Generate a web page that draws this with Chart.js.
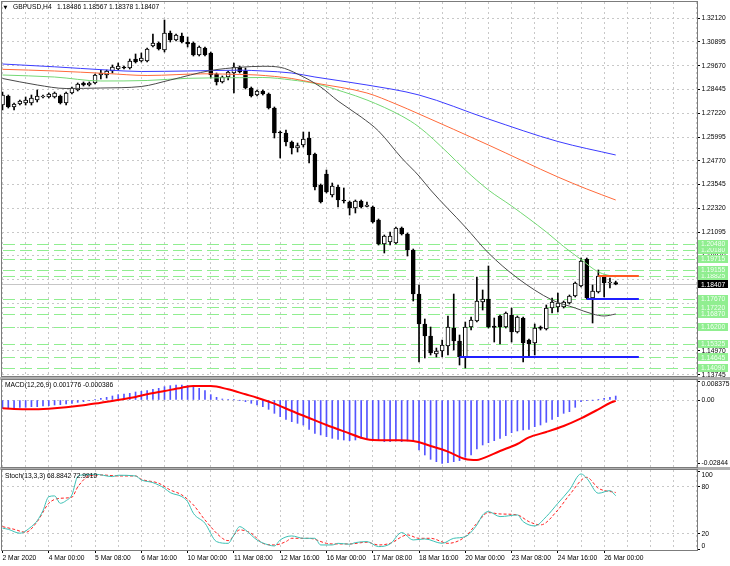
<!DOCTYPE html>
<html>
<head>
<meta charset="utf-8">
<title>GBPUSD,H4</title>
<script src="https://cdn.jsdelivr.net/npm/chart.js@4.4.1/dist/chart.umd.min.js"></script>
<style>
html,body{margin:0;padding:0;background:#fff;}
body{width:730px;height:566px;overflow:hidden;position:relative;}
canvas{position:absolute;left:0;}
.sep{position:absolute;left:0;width:730px;height:3px;background:#b0b0b0;}
</style>
</head>
<body>
<div class="sep" style="top:377px"></div>
<div class="sep" style="top:467px"></div>
<canvas id="cMain" width="730" height="377" style="top:0"></canvas>
<canvas id="cMacd" width="730" height="91" style="top:377px"></canvas>
<canvas id="cSto" width="730" height="98" style="top:468px"></canvas>
<script>
// ---------------- DATA ----------------
const symbol = 'GBPUSD,H4';

const barOpen = [
1.27645,1.28109,1.27542,1.27697,1.27748,1.27748,1.27903,1.28057,1.28057,1.28057,
1.28109,1.27748,1.28263,1.28418,1.28779,1.28676,1.28779,1.29191,1.29191,1.29398,
1.29501,1.29604,1.29552,1.30016,1.29913,1.29913,1.30686,1.30841,1.30480,1.31356,
1.30995,1.31202,1.30892,1.30841,1.30222,1.30583,1.30325,1.29243,1.28831,1.29088,
1.29294,1.29604,1.29398,1.28521,1.28160,1.28367,1.28212,1.27490,1.26253,1.26202,
1.25738,1.25428,1.25583,1.25944,1.25119,1.23521,1.24088,1.23006,1.23418,1.22748,
1.22645,1.22336,1.22696,1.22413,1.22387,1.21717,1.20480,1.20583,1.20532,1.21305,
1.20995,1.20171,1.17902,1.16356,1.15738,1.14810,1.14965,1.15222,1.16150,1.15480,
1.14656,1.16202,1.16511,1.17490,1.17645,1.16253,1.16769,1.16202,1.16820,1.15944,
1.16666,1.15532,1.15377,1.16202,1.16098,1.17181,1.17233,1.17233,1.17439,1.17799,
1.18314,1.19707,1.17696,1.18005,1.18830,1.18469,1.18486];
const barHigh = [
1.28315,1.28160,1.27748,1.27903,1.28057,1.28160,1.28418,1.28160,1.28263,1.28315,
1.28160,1.28315,1.28573,1.28779,1.28831,1.28831,1.29243,1.29449,1.29449,1.29707,
1.29810,1.29655,1.30016,1.30274,1.30325,1.30583,1.31305,1.30892,1.32026,1.31459,
1.31305,1.31356,1.31150,1.30892,1.30686,1.30635,1.30377,1.29294,1.29140,1.29398,
1.29810,1.29655,1.29552,1.28573,1.28418,1.28418,1.28263,1.27542,1.26305,1.26356,
1.25789,1.25686,1.26253,1.26253,1.25171,1.23573,1.24294,1.23624,1.23521,1.23367,
1.22696,1.22748,1.22748,1.22645,1.22439,1.21769,1.20944,1.21099,1.21356,1.21356,
1.21047,1.20222,1.18366,1.16614,1.16202,1.15119,1.15532,1.16769,1.17902,1.15789,
1.16459,1.16717,1.18779,1.18109,1.19346,1.16666,1.16820,1.16975,1.17181,1.16769,
1.16717,1.15583,1.16356,1.16253,1.17336,1.17696,1.17954,1.17542,1.17851,1.18521,
1.19758,1.19758,1.18366,1.19140,1.18882,1.18727,1.18567];
const barLow = [
1.27387,1.27490,1.27387,1.27645,1.27645,1.27645,1.27800,1.28006,1.28006,1.28006,
1.27697,1.27645,1.28212,1.28367,1.28624,1.28624,1.28727,1.28985,1.29037,1.29294,
1.29449,1.29501,1.29501,1.29810,1.29861,1.29861,1.30635,1.30480,1.30377,1.30892,
1.30944,1.30841,1.30635,1.30171,1.30171,1.30171,1.29037,1.28676,1.28779,1.28934,
1.28263,1.29294,1.28470,1.28057,1.28109,1.28160,1.27439,1.25944,1.24913,1.25532,
1.25119,1.25222,1.25480,1.24655,1.23263,1.22593,1.23109,1.22903,1.22387,1.22593,
1.21975,1.22078,1.22336,1.22387,1.21562,1.20428,1.20016,1.20428,1.20480,1.20944,
1.19861,1.17542,1.14398,1.14604,1.14759,1.14656,1.14656,1.14759,1.15016,1.14243,
1.14088,1.16047,1.16459,1.17078,1.16150,1.15428,1.15325,1.16150,1.15428,1.15892,
1.14398,1.14656,1.14759,1.16047,1.16047,1.16923,1.16975,1.17181,1.17387,1.17748,
1.18263,1.17645,1.16408,1.17954,1.17748,1.18212,1.18378];
const barClose = [
1.28160,1.27542,1.27697,1.27851,1.27903,1.28006,1.28109,1.28083,1.28212,1.28263,
1.27748,1.28263,1.28521,1.28727,1.28676,1.28779,1.29191,1.29294,1.29398,1.29604,
1.29655,1.29552,1.29913,1.29861,1.30068,1.30532,1.30841,1.30532,1.31356,1.30995,
1.31253,1.30892,1.30789,1.30222,1.30635,1.30222,1.29191,1.28831,1.29088,1.29346,
1.29604,1.29346,1.28521,1.28109,1.28367,1.28212,1.27490,1.26202,1.26202,1.25738,
1.25428,1.25547,1.25892,1.25068,1.23418,1.22645,1.23160,1.23470,1.22748,1.22696,
1.22336,1.22696,1.22387,1.22490,1.21614,1.20480,1.20892,1.20892,1.21305,1.20995,
1.20171,1.17902,1.16356,1.15738,1.14862,1.14965,1.15274,1.16202,1.15480,1.14656,
1.16202,1.16562,1.17542,1.17645,1.16202,1.16176,1.16202,1.16923,1.15944,1.16717,
1.15377,1.15325,1.16150,1.16124,1.17181,1.17490,1.17439,1.17490,1.17799,1.18469,
1.19604,1.17696,1.18057,1.18830,1.18469,1.18521,1.18407];

// moving averages: [bar index, price]
const maGray = [[0,1.29011],[6,1.28676],[11,1.28495],[17,1.28521],[24,1.28598],[29,1.28934],[36,1.29423],[41,1.29588],[45,1.29640],[48,1.29588],[51,1.29243],[55,1.28573],[58,1.27851],[62,1.27026],[65,1.26305],[69,1.24913],[72,1.23985],[74,1.23263],[80,1.21356],[84,1.20016],[89,1.18727],[95,1.17593],[99,1.17181],[102,1.16872],[104,1.16769],[106,1.16872]];
const maGreen = [[0,1.29191],[9,1.29088],[17,1.28882],[25,1.28908],[32,1.29021],[41,1.29052],[45,1.29062],[50,1.28934],[54,1.28753],[59,1.28315],[63,1.27903],[69,1.27078],[72,1.26511],[77,1.25171],[80,1.24294],[84,1.23263],[88,1.22439],[94,1.21099],[97,1.20351],[100,1.19681],[103,1.19037],[106,1.18779]];
const maOrange = [[0,1.29485],[9,1.29398],[18,1.29269],[25,1.29166],[35,1.29253],[41,1.29217],[44,1.29191],[50,1.29011],[54,1.28779],[63,1.28263],[68,1.27697],[72,1.27181],[84,1.25583],[96,1.23934],[101,1.23315],[106,1.22748]];
const maBlue = [[0,1.29758],[9,1.29614],[18,1.29449],[24,1.29372],[32,1.29398],[41,1.29439],[45,1.29398],[50,1.29294],[54,1.29088],[63,1.28676],[72,1.28160],[84,1.26923],[96,1.25764],[106,1.25068]];

// horizontal levels
const greenLevels = [1.20480,1.20180,1.19715,1.19155,1.18825,1.17670,1.17220,1.16870,1.16200,1.15325,1.14645,1.14090];
const segLevel = [1.18825, 1.17670, 1.14645];
const segFrom  = [103, 101, 79];
const segTo    = [110, 110, 110];

// price axis ticks
const priceTicks = [1.13745,1.14970,1.16195,1.17420,1.18645,1.19870,1.21095,1.22320,1.23545,1.24770,1.25995,1.27220,1.28445,1.29670,1.30895,1.32120];

// MACD(12,26,9)
const macdHist = [
-0.00373,-0.00373,-0.00358,-0.00328,-0.00328,-0.00299,-0.00299,-0.00269,-0.00254,-0.00224,
-0.00209,-0.00179,-0.00149,-0.00104,-0.00075,-0.00030,0.00030,0.00075,0.00119,0.00179,
0.00239,0.00269,0.00299,0.00358,0.00388,0.00418,0.00478,0.00522,0.00597,0.00642,
0.00672,0.00672,0.00657,0.00627,0.00522,0.00418,0.00239,0.00119,0.00045,0.00015,
0.00008,-0.00010,-0.00075,-0.00149,-0.00224,-0.00299,-0.00418,-0.00597,-0.00746,-0.00866,
-0.00970,-0.01045,-0.01120,-0.01314,-0.01493,-0.01567,-0.01642,-0.01717,-0.01761,-0.01791,
-0.01821,-0.01791,-0.01717,-0.01717,-0.01791,-0.01821,-0.01866,-0.01866,-0.01836,-0.01866,
-0.01836,-0.01866,-0.02239,-0.02463,-0.02657,-0.02762,-0.02844,-0.02806,-0.02762,-0.02717,
-0.02568,-0.02463,-0.02194,-0.02015,-0.01911,-0.01821,-0.01717,-0.01597,-0.01463,-0.01388,
-0.01343,-0.01314,-0.01194,-0.01120,-0.01000,-0.00866,-0.00746,-0.00597,-0.00522,-0.00328,
-0.00075,-0.00030,-0.00005,0.00030,0.00075,0.00119,0.001776];
const macdSignal = [[0,-0.00373],[2,-0.00403],[5,-0.00418],[8,-0.00388],[11,-0.00328],[14,-0.00239],[17,-0.00119],[20,0.00000],[23,0.00134],[25,0.00254],[28,0.00403],[31,0.00552],[33,0.00627],[36,0.00627],[39,0.00478],[42,0.00254],[44,0.00104],[47,-0.00164],[50,-0.00493],[53,-0.00806],[56,-0.01120],[59,-0.01403],[63,-0.01761],[64,-0.01791],[68,-0.01806],[71,-0.01836],[74,-0.02060],[77,-0.02314],[80,-0.02642],[82,-0.02687],[83,-0.02612],[86,-0.02284],[89,-0.01970],[91,-0.01672],[94,-0.01433],[97,-0.01164],[100,-0.00821],[103,-0.00418],[105,-0.00134],[106,-0.000386]];
const macdTicks = [0.008375, 0, -0.02844];
const macdTickText = ['0.008375', '0.00', '-0.02844'];

// Stochastic(13,3,3)
const stochMain = [[0,27.5],[1,26],[3,21],[5,29.5],[6,37],[7,50],[8,67.7],[9,68.6],[10,59.2],[11,62.6],[12,70],[13,93.3],[14,95.4],[16,96.3],[19,93.3],[20,95],[23,94.1],[24,89],[26,85.6],[28,78.4],[29,72.8],[31,67.7],[32,61.3],[33,46.4],[35,33.7],[37,10.3],[39,8.1],[40,18.8],[41,29.4],[42,25.2],[44,12.4],[46,6],[47,4.7],[48,12.4],[50,17.5],[52,14.5],[54,14.5],[55,6],[57,6],[58,8.1],[60,6.9],[61,9],[63,10.3],[65,3.9],[67,7.3],[69,21.8],[71,12.4],[73,13.7],[76,8.1],[78,14.5],[80,16.6],[82,31.6],[83,44.3],[84,48.6],[86,42.2],[89,44.3],[90,35.8],[92,30.3],[94,42.2],[96,59.2],[98,76.2],[100,96.7],[101,91.1],[103,72],[105,75.4],[106,68.8842]];
const stochSignal = [[0,29.4],[2,26],[4,22.2],[6,35.8],[8,59.2],[10,65.6],[12,67],[13,80],[15,94.1],[17,95.4],[20,94.1],[23,94.1],[24,89.9],[27,84.8],[29,76.2],[31,69.9],[33,57.1],[35,37.9],[38,14.5],[39,11.5],[41,25.2],[43,20.9],[45,8.1],[47,6],[49,10.3],[50,14.5],[53,14.5],[56,8.1],[57,7.3],[60,7.3],[63,9.5],[65,6],[67,8.1],[70,18.8],[72,14.5],[74,14.5],[77,8.1],[80,16.6],[82,33.7],[84,47.3],[86,45.6],[89,44.3],[91,35.8],[93,31.6],[96,50.7],[98,69.9],[101,92.4],[103,78.4],[106,72.991]];
const stochTicks = [100, 80, 20, 0];
const stochTickText = ['100', '80', '20', '0'];

// time axis
const xLabelIdx = [0,8,16,24,32,40,48,56,64,72,80,88,96,104];
const xLabels = ['2 Mar 2020','4 Mar 00:00','5 Mar 08:00','6 Mar 16:00','10 Mar 00:00','11 Mar 08:00','12 Mar 16:00','16 Mar 00:00','17 Mar 08:00','18 Mar 16:00','20 Mar 00:00','23 Mar 08:00','24 Mar 16:00','26 Mar 00:00'];

// ---------------- STYLE / LAYOUT ----------------
const FONT_FAM = '"Liberation Sans", Arial, sans-serif';
const FONT = {family: FONT_FAM, size: 6.7};
const GRID = '#c8c8c8';
const GRID_DASH = [2, 3];
const SEG_COLORS = ['#ff5a24', '#2020ff', '#2020ff'];
const X_MIN = -0.0864, X_MAX = 120.05;
const gridIdx = []; for (let k = 0; k <= 120; k += 4) gridIdx.push(k);
const lastIdx = barClose.length - 1;
const lastPrice = barClose[lastIdx];

Chart.defaults.font.family = FONT_FAM;
Chart.defaults.font.size = 6.7;
Chart.defaults.color = '#000';

const pts = arr => arr.map(([x, y]) => ({x, y}));

function xGrid(extra) {
  const base = {
    type: 'linear', min: X_MIN, max: X_MAX, offset: false,
    afterBuildTicks: s => { s.ticks = gridIdx.map(v => ({value: v})); },
    ticks: {display: false},
    grid: {color: GRID, drawTicks: false, offset: false},
    border: {display: false, dash: GRID_DASH},
    afterFit: s => { s.height = 0; s.paddingLeft = 0; s.paddingRight = 0; }
  };
  return Object.assign(base, extra || {});
}
function yRight(min, max, ticks, cb, gridColor, showLabels) {
  return {
    position: 'right', min, max,
    afterBuildTicks: s => { s.ticks = ticks.map(v => ({value: v})); },
    ticks: {display: showLabels, font: FONT, color: '#000', padding: 1.5, autoSkip: false, callback: cb},
    grid: {color: gridColor, tickLength: 3, tickColor: '#000', tickBorderDash: [], offset: false},
    border: {display: false, dash: GRID_DASH},
    afterFit: s => { s.width = 33; s.paddingTop = 0; s.paddingBottom = 0; }
  };
}
// MT4-style sub-window scale labels: end labels are kept inside the window
function axisLabels(values, texts, padTop, padBottom) {
  return {
    id: 'axlbl',
    afterDraw(chart) {
      const {ctx, chartArea: a, scales: {y}} = chart;
      ctx.save();
      ctx.font = '6.7px ' + FONT_FAM; ctx.fillStyle = '#000';
      ctx.textBaseline = 'middle'; ctx.textAlign = 'left';
      values.forEach((v, k) => {
        let py = y.getPixelForValue(v);
        py = Math.min(Math.max(py, a.top + padTop), a.bottom - padBottom);
        ctx.fillText(texts[k], a.right + 4.5, py);
      });
      ctx.restore();
    }
  };
}
const frame = {
  id: 'frame',
  afterDraw(chart) {
    const {ctx, chartArea: a} = chart;
    ctx.save();
    ctx.strokeStyle = '#7c7c7c'; ctx.lineWidth = 1;
    ctx.strokeRect(a.left - 0.5, a.top - 0.5, a.right - a.left + 1, a.bottom - a.top + 1);
    ctx.restore();
  }
};
function header(text, x, y) {
  return {
    id: 'hdr',
    afterDraw(chart) {
      const ctx = chart.ctx;
      ctx.save();
      ctx.fillStyle = '#000'; ctx.textBaseline = 'middle'; ctx.textAlign = 'left';
      ctx.font = '6.7px ' + FONT_FAM;
      ctx.fillText(text, x, y);
      ctx.restore();
    }
  };
}
const common = {
  responsive: false, maintainAspectRatio: false, animation: false, events: [],
  plugins: {legend: {display: false}, tooltip: {enabled: false}}
};

// ---------------- MAIN PRICE CHART ----------------
const mainDeco = {
  id: 'mainDeco',
  beforeDatasetsDraw(chart) {
    const {ctx, chartArea: a, scales: {y}} = chart;
    ctx.save();
    ctx.beginPath(); ctx.rect(a.left, a.top, a.right - a.left, a.bottom - a.top); ctx.clip();
    ctx.lineWidth = 1;
    ctx.strokeStyle = '#c6c6c6';
    let py = Math.round(y.getPixelForValue(lastPrice)) + 0.5;
    ctx.beginPath(); ctx.moveTo(a.left, py); ctx.lineTo(a.right, py); ctx.stroke();
    ctx.strokeStyle = '#90ee90';
    ctx.setLineDash([12, 5]);
    greenLevels.forEach(v => {
      const yy = Math.round(y.getPixelForValue(v)) + 0.5;
      ctx.beginPath(); ctx.moveTo(a.left + 1, yy); ctx.lineTo(a.right, yy); ctx.stroke();
    });
    ctx.restore();
  },
  afterDatasetsDraw(chart) {
    const {ctx, scales: {x, y}} = chart;
    ctx.save();
    ctx.lineWidth = 2;
    segLevel.forEach((v, k) => {
      const py = Math.round(y.getPixelForValue(v));
      ctx.strokeStyle = SEG_COLORS[k];
      ctx.beginPath();
      ctx.moveTo(x.getPixelForValue(segFrom[k]), py);
      ctx.lineTo(x.getPixelForValue(segTo[k]), py);
      ctx.stroke();
    });
    ctx.restore();
  },
  afterDraw(chart) {
    const {ctx, chartArea: a, scales: {y}} = chart;
    ctx.save();
    ctx.font = '6.7px ' + FONT_FAM;
    ctx.textBaseline = 'middle'; ctx.textAlign = 'left';
    const box = (v, bg, fg) => {
      const py = y.getPixelForValue(v);
      ctx.fillStyle = bg; ctx.fillRect(a.right + 1, Math.round(py - 4), 30, 8);
      ctx.fillStyle = fg; ctx.fillText(v.toFixed(5), a.right + 4, py + 0.5);
    };
    greenLevels.slice().sort((p, q) => p - q).forEach(v => box(v, '#90ee90', '#f2fff2'));
    box(lastPrice, '#000000', '#ffffff');
    // header
    ctx.fillStyle = '#000';
    ctx.font = '5px "DejaVu Sans"';
    ctx.fillText('\u25BC', 3.5, 7.5);
    ctx.font = '6.7px ' + FONT_FAM;
    ctx.fillText(symbol, 13, 7.5);
    ctx.fillText([barOpen[lastIdx], barHigh[lastIdx], barLow[lastIdx], barClose[lastIdx]].map(v => v.toFixed(5)).join(' '), 57, 7.5);
    ctx.restore();
  }
};

new Chart(document.getElementById('cMain'), {
  type: 'bar',
  data: {
    datasets: [
      {type: 'line', data: pts(maGray), borderColor: '#4a4a4a', borderWidth: 1, pointRadius: 0, cubicInterpolationMode: 'monotone', order: 0},
      {type: 'line', data: pts(maBlue), borderColor: '#3c3cff', borderWidth: 1, pointRadius: 0, cubicInterpolationMode: 'monotone', order: 1},
      {type: 'line', data: pts(maOrange), borderColor: '#ff6a3a', borderWidth: 1, pointRadius: 0, cubicInterpolationMode: 'monotone', order: 2},
      {type: 'line', data: pts(maGreen), borderColor: '#74d874', borderWidth: 1, pointRadius: 0, cubicInterpolationMode: 'monotone', order: 3},
      {type: 'bar', data: barOpen.map((o, i) => ({x: i, y: [o, barClose[i]]})),
        backgroundColor: c => (barClose[c.dataIndex] >= barOpen[c.dataIndex] ? '#ffffff' : '#000000'),
        borderColor: '#000', borderWidth: 1, borderSkipped: false, barThickness: 4, minBarLength: 1,
        grouped: false, order: 5, clip: 0},
      {type: 'bar', data: barLow.map((l, i) => ({x: i, y: [l, barHigh[i]]})),
        backgroundColor: '#000', borderWidth: 0, barThickness: 1, grouped: false, order: 6, clip: 0}
    ]
  },
  options: Object.assign({}, common, {
    layout: {padding: {left: 2, top: 2, right: 0, bottom: 1}},
    scales: {
      x: xGrid(),
      y: yRight(1.13676, 1.32954, priceTicks, v => Number(v).toFixed(5), GRID, true)
    }
  }),
  plugins: [frame, mainDeco]
});

// ---------------- MACD ----------------
new Chart(document.getElementById('cMacd'), {
  type: 'bar',
  data: {
    datasets: [
      {type: 'line', data: pts(macdSignal), borderColor: '#ff0000', borderWidth: 2, pointRadius: 0, cubicInterpolationMode: 'monotone', order: 0},
      {type: 'bar', data: macdHist.map((v, i) => ({x: i, y: v})), backgroundColor: '#5454ff', borderWidth: 0, barThickness: 1, grouped: false, order: 1, clip: 0}
    ]
  },
  options: Object.assign({}, common, {
    layout: {padding: {left: 2, top: 3, right: 0, bottom: 1}},
    scales: {
      x: xGrid(),
      y: yRight(-0.030005, 0.008957, macdTicks, (v, i) => macdTickText[i],
        c => (c.tick && c.tick.value === 0 ? GRID : 'rgba(0,0,0,0)'), false)
    }
  }),
  plugins: [frame, axisLabels(macdTicks, macdTickText, 4.5, 3.5),
    header('MACD(12,26,9) ' + macdHist[lastIdx].toFixed(6) + ' ' + macdSignal[macdSignal.length - 1][1].toFixed(6), 5, 8)]
});

// ---------------- STOCHASTIC ----------------
new Chart(document.getElementById('cSto'), {
  type: 'line',
  data: {
    datasets: [
      {data: pts(stochSignal), borderColor: '#ff2020', borderWidth: 1, borderDash: [3, 2], pointRadius: 0, cubicInterpolationMode: 'monotone', order: 1},
      {data: pts(stochMain), borderColor: '#3cc0b4', borderWidth: 1, pointRadius: 0, cubicInterpolationMode: 'monotone', order: 0}
    ]
  },
  options: Object.assign({}, common, {
    layout: {padding: {left: 2, top: 2, right: 0, bottom: 0}},
    scales: {
      x: xGrid({
        ticks: {display: true, autoSkip: false, maxRotation: 0, minRotation: 0, align: 'start', font: FONT, color: '#000', padding: 1,
          callback: v => { const k = xLabelIdx.indexOf(v); return k >= 0 ? xLabels[k] : ''; }},
        grid: {color: GRID, drawTicks: true, tickLength: 3, offset: false, tickBorderDash: [],
          tickColor: c => (c.tick && xLabelIdx.indexOf(c.tick.value) >= 0 ? '#000' : 'rgba(0,0,0,0)')},
        afterFit: s => { s.height = 16; s.paddingLeft = 0; s.paddingRight = 0; }
      }),
      y: yRight(-0.43, 101.7, stochTicks, v => String(v),
        c => (c.tick && (c.tick.value === 20 || c.tick.value === 80) ? GRID : 'rgba(0,0,0,0)'), false)
    }
  }),
  plugins: [frame, axisLabels(stochTicks, stochTickText, 5, 4),
    header('Stoch(13,3,3) ' + stochMain[stochMain.length - 1][1].toFixed(4) + ' ' + stochSignal[stochSignal.length - 1][1].toFixed(4), 5, 8.5)]
});
</script>
</body>
</html>
